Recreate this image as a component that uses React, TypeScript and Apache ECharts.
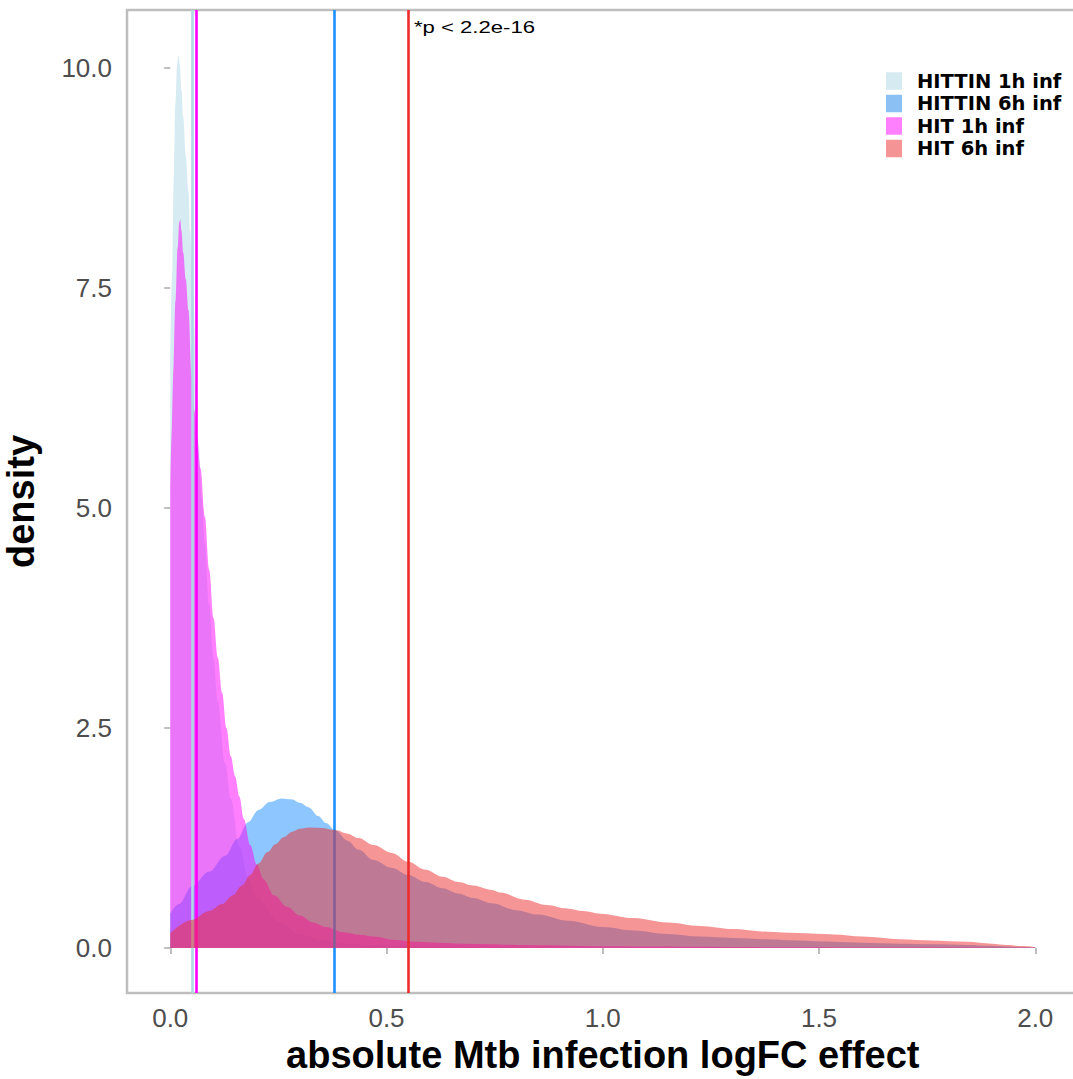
import React, { useEffect, useRef } from "react";
import * as echarts from "echarts";

// ---- data (density estimates) ----
const SERIES_NAMES = ["HITTIN 1h inf", "HITTIN 6h inf", "HIT 1h inf", "HIT 6h inf"];

const HITTIN_1H: [number, number][] = [
  [0, 6.6], [0.004, 7.6], [0.008, 8.7], [0.012, 9.6], [0.016, 10.05], [0.019, 10.15],
  [0.022, 10.05], [0.026, 9.75], [0.03, 9.45], [0.036, 9.0], [0.042, 8.6], [0.046, 8.15],
  [0.05, 7.8], [0.054, 7.35], [0.06, 6.4], [0.066, 5.7], [0.073, 5.1], [0.08, 4.6],
  [0.09, 3.9], [0.1, 3.3], [0.11, 2.8], [0.127, 2.1], [0.14, 1.7], [0.16, 1.15],
  [0.18, 0.8], [0.2, 0.58], [0.25, 0.3], [0.3, 0.16], [0.35, 0.09], [0.4, 0.05],
  [0.5, 0.03], [0.6, 0.02], [0.8, 0.01], [1.0, 0.005], [1.5, 0.002], [2.0, 0.001],
];

const HITTIN_6H: [number, number][] = [
  [0, 0.39], [0.02, 0.5], [0.05, 0.7], [0.09, 0.87], [0.127, 1.05], [0.155, 1.24],
  [0.18, 1.43], [0.204, 1.57], [0.23, 1.66], [0.258, 1.7], [0.28, 1.69], [0.3, 1.65],
  [0.32, 1.6], [0.342, 1.5], [0.36, 1.42], [0.381, 1.34], [0.41, 1.22], [0.435, 1.12],
  [0.47, 1.0], [0.513, 0.91], [0.55, 0.83], [0.59, 0.75], [0.63, 0.68], [0.666, 0.62],
  [0.7, 0.57], [0.744, 0.51], [0.8, 0.43], [0.85, 0.38], [0.92, 0.31], [1.0, 0.24],
  [1.071, 0.2], [1.15, 0.16], [1.225, 0.13], [1.3, 0.115], [1.38, 0.1], [1.45, 0.085],
  [1.533, 0.07], [1.6, 0.06], [1.688, 0.05], [1.76, 0.042], [1.842, 0.034], [1.9, 0.025],
  [1.95, 0.015], [2.0, 0.008],
];

const HIT_1H: [number, number][] = [
  [0, 5.2], [0.003, 5.8], [0.007, 6.5], [0.012, 7.35], [0.017, 7.95], [0.021, 8.25],
  [0.023, 8.28], [0.026, 8.15], [0.03, 7.9], [0.036, 7.6], [0.042, 7.25], [0.05, 6.5],
  [0.056, 6.1], [0.062, 5.8], [0.07, 5.45], [0.08, 4.9], [0.09, 4.3], [0.1, 3.75],
  [0.11, 3.3], [0.12, 2.9], [0.13, 2.5], [0.14, 2.18], [0.15, 1.95], [0.16, 1.72],
  [0.17, 1.47], [0.185, 1.17], [0.2, 0.95], [0.216, 0.78], [0.24, 0.6], [0.27, 0.47],
  [0.3, 0.37], [0.33, 0.29], [0.36, 0.24], [0.4, 0.18], [0.44, 0.15], [0.47, 0.13],
  [0.52, 0.09], [0.57, 0.07], [0.62, 0.06], [0.7, 0.045], [0.8, 0.035], [0.9, 0.03],
  [1.0, 0.02], [1.2, 0.015], [1.4, 0.01], [1.7, 0.006], [2.0, 0.003],
];

const HIT_6H: [number, number][] = [
  [0, 0.17], [0.05, 0.32], [0.09, 0.42], [0.12, 0.5], [0.145, 0.6], [0.166, 0.71],
  [0.185, 0.83], [0.204, 0.96], [0.225, 1.09], [0.243, 1.18], [0.262, 1.26], [0.281, 1.32],
  [0.3, 1.355], [0.32, 1.37], [0.35, 1.365], [0.381, 1.34], [0.41, 1.3], [0.435, 1.25],
  [0.47, 1.17], [0.513, 1.08], [0.55, 0.98], [0.59, 0.89], [0.63, 0.81], [0.666, 0.75],
  [0.7, 0.71], [0.744, 0.66], [0.763, 0.63], [0.82, 0.55], [0.87, 0.49], [0.917, 0.45],
  [0.955, 0.42], [0.994, 0.39], [1.071, 0.34], [1.15, 0.29], [1.225, 0.25], [1.3, 0.215],
  [1.38, 0.185], [1.45, 0.17], [1.533, 0.155], [1.6, 0.13], [1.688, 0.1], [1.76, 0.085],
  [1.842, 0.07], [1.9, 0.05], [1.935, 0.035], [1.97, 0.022], [2.0, 0.01],
];

// vertical marker lines, one per group (in drawing order)
const VLINE_GROUPS = ["HITTIN 1h inf", "HIT 1h inf", "HITTIN 6h inf", "HIT 6h inf"];
const VLINE_VALUES = [0.0513, 0.0647, 0.3815, 0.545];

const X_TICKS = [0, 0.5, 1, 1.5, 2];
const Y_TICKS = [0, 2.5, 5, 7.5, 10];

const ANNOTATION = "*p < 2.2e-16";
const X_TITLE = "absolute Mtb infection logFC effect";
const Y_TITLE = "density";

// ---- styles ----
const LINE_COLORS: Record<string, string> = {
  "HITTIN 1h inf": "#ADD8E6",
  "HITTIN 6h inf": "#1E90FF",
  "HIT 1h inf": "#FF00FF",
  "HIT 6h inf": "#EE2C2C",
};
const LEGEND_COLORS: Record<string, string> = {
  "HITTIN 1h inf": "#D5EAF1",
  "HITTIN 6h inf": "#8BC0F5",
  "HIT 1h inf": "#FF80FF",
  "HIT 6h inf": "#F49494",
};

export default function App() {
  const ref = useRef<HTMLDivElement>(null);

  useEffect(() => {
    if (!ref.current) return;
    const chart = echarts.init(ref.current, undefined, { renderer: "svg" });
    const allData = [HITTIN_1H, HITTIN_6H, HIT_1H, HIT_6H];

    const series: any[] = allData.map((d, i) => {
      const name = SERIES_NAMES[i];
      return {
        name,
        type: "line",
        data: d,
        showSymbol: false,
        symbol: "none",
        smooth: 0.35,
        smoothMonotone: "x",
        lineStyle: { width: 0, opacity: 0 },
        areaStyle: { color: LINE_COLORS[name], opacity: 0.5 },
        itemStyle: { color: LEGEND_COLORS[name] },
        emphasis: { disabled: true },
        silent: true,
        z: 2 + i,
      };
    });

    series.push({
      name: "vlines",
      type: "line",
      data: [],
      z: 10,
      silent: true,
      markLine: {
        silent: true,
        symbol: ["none", "none"],
        label: { show: false },
        emphasis: { disabled: true },
        data: VLINE_VALUES.map((v, i) => ({
          xAxis: v,
          lineStyle: { color: LINE_COLORS[VLINE_GROUPS[i]], width: 2.6, type: "solid" },
        })),
      },
    });

    chart.setOption({
      animation: false,
      backgroundColor: "#ffffff",
      grid: {
        left: 127,
        top: 10,
        width: 951.5,
        height: 983,
        show: true,
        borderColor: "#bebebe",
        borderWidth: 2.5,
        backgroundColor: "transparent",
        containLabel: false,
        outerBoundsMode: "none",
      },
      legend: {
        orient: "vertical",
        left: 886,
        top: 71,
        padding: 0,
        itemWidth: 16,
        itemHeight: 17.5,
        itemGap: 2.5,
        selectedMode: false,
        textStyle: {
          fontFamily: "DejaVu Sans",
          fontWeight: "bold",
          fontSize: 19.5,
          color: "#000000",
          padding: [0, 0, 0, 10],
        },
        data: SERIES_NAMES.map((n) => ({
          name: n,
          icon: "rect",
          itemStyle: { color: LEGEND_COLORS[n], opacity: 1 },
        })),
      },
      xAxis: {
        type: "value",
        min: -0.1,
        max: 2.1,
        name: X_TITLE,
        nameLocation: "middle",
        nameGap: 43,
        nameTextStyle: {
          fontFamily: "Liberation Sans",
          fontWeight: "bold",
          fontSize: 38,
          color: "#000000",
        },
        axisLine: { show: false },
        splitLine: { show: false },
        axisTick: {
          show: true,
          customValues: X_TICKS,
          length: 6,
          lineStyle: { color: "#bebebe", width: 2 },
        },
        axisLabel: {
          customValues: X_TICKS,
          formatter: (v: number) => v.toFixed(1),
          fontFamily: "Liberation Sans",
          fontSize: 26,
          color: "#4d4d4d",
          margin: 12,
        },
      },
      yAxis: {
        type: "value",
        min: -0.511,
        max: 10.66,
        name: Y_TITLE,
        nameLocation: "middle",
        nameGap: 87,
        nameTextStyle: {
          fontFamily: "Liberation Sans",
          fontWeight: "bold",
          fontSize: 38,
          color: "#000000",
        },
        axisLine: { show: false },
        splitLine: { show: false },
        axisTick: {
          show: true,
          customValues: Y_TICKS,
          length: 6,
          lineStyle: { color: "#bebebe", width: 2 },
        },
        axisLabel: {
          customValues: Y_TICKS,
          formatter: (v: number) => v.toFixed(1),
          fontFamily: "Liberation Sans",
          fontSize: 26,
          color: "#4d4d4d",
          margin: 15,
        },
      },
      graphic: [
        {
          type: "text",
          x: 414,
          y: 27,
          scaleX: 1.3,
          silent: true,
          style: {
            text: ANNOTATION,
            font: "17px 'Liberation Sans'",
            fill: "#000000",
            textAlign: "left",
            textVerticalAlign: "middle",
          },
        },
      ],
      series,
    });

    return () => chart.dispose();
  }, []);

  return (
    <div
      ref={ref}
      style={{ position: "absolute", left: 0, top: 0, width: 1073, height: 1079 }}
    />
  );
}
